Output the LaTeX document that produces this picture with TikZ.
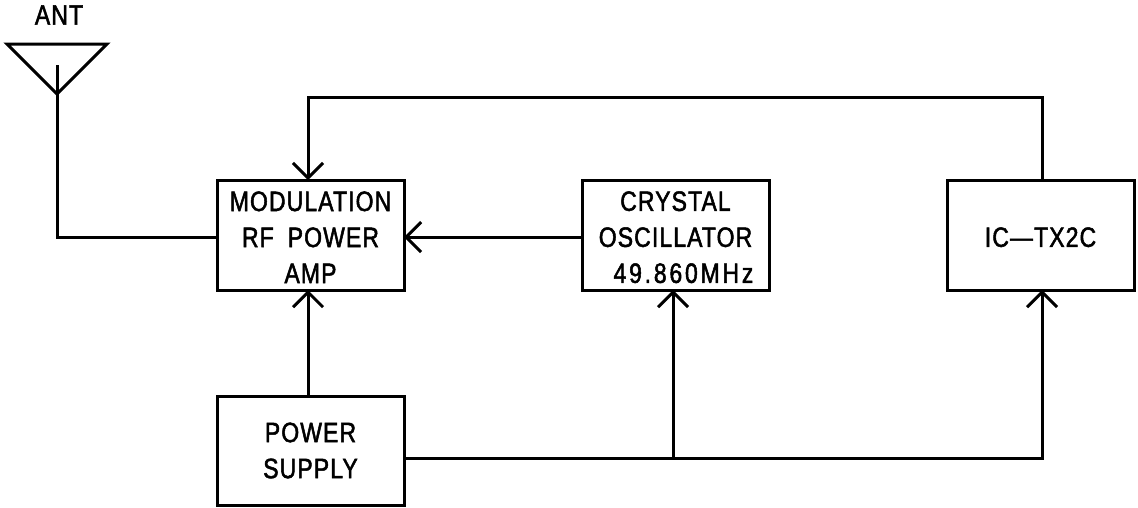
\documentclass[tikz,border=0pt]{standalone}
\usepackage{fontspec}
\setmainfont[FakeStretch=0.82,LetterSpace=4,FakeBold=1.8]{Liberation Sans}
\usetikzlibrary{positioning}
\usetikzlibrary{arrows.meta}
\newcommand{\topgap}{\rule{0pt}{24pt}}

\begin{document}
\begin{tikzpicture}[x=1pt,y=-1pt,line width=3pt,
                every node/.style={font=\fontsize{28}{36}\selectfont, outer sep=0pt, inner sep=0pt, align=center},
                blockbox/.style={draw, rectangle, minimum width=187pt, minimum height=110pt},
                sig/.style={-{Straight Barb[length=15pt,width=30pt,line width=3pt]}}]
            \useasboundingbox (0,0) rectangle (1138,507);

            \node[blockbox] (mod) at (310.5,235) {\topgap MODULATION\\RF\hspace{0.5em}POWER\\AMP};
            \node[blockbox, right=178pt of mod] (osc) {\topgap CRYSTAL\\OSCILLATOR\\\hspace{16pt}{\addfontfeature{LetterSpace=10}49.860MHz}};
            \node[blockbox, right=178pt of osc] (ictx) {\topgap IC---TX2C};
            \node[blockbox, below=106pt of mod, minimum height=109pt] (psu) {POWER\\SUPPLY};
            \node (antlabel) at (59,15) {ANT};

            % antenna
            \coordinate (antleft) at (7,44);
            \coordinate (antright) at (107,44);
            \coordinate (anttip) at (57,94);
            \coordinate (antstem) at (57,65);
            \coordinate (modin) at (217,237);
            \draw[line join=miter] (antleft) -- (antright) -- (anttip) -- cycle;
            \draw (antstem) -- (anttip) |- (modin);

            % feedback and supply lines
            \coordinate (fbk) at (308,97);
            \coordinate (jct) at (673,458);
            \coordinate (icin) at (1042,458);
            \draw[sig] (ictx.north -| icin) -- (icin |- fbk) -- (fbk) -- (fbk |- mod.north);
            \draw[sig] (osc.west |- modin) -- (mod.east |- modin);
            \draw[sig] (fbk |- psu.north) -- (fbk |- mod.south);
            \draw[sig] (psu.east |- jct) -- (icin) -- (icin |- ictx.south);
            \draw[sig] (jct) -- (jct |- osc.south);
        \end{tikzpicture}
\end{document}
